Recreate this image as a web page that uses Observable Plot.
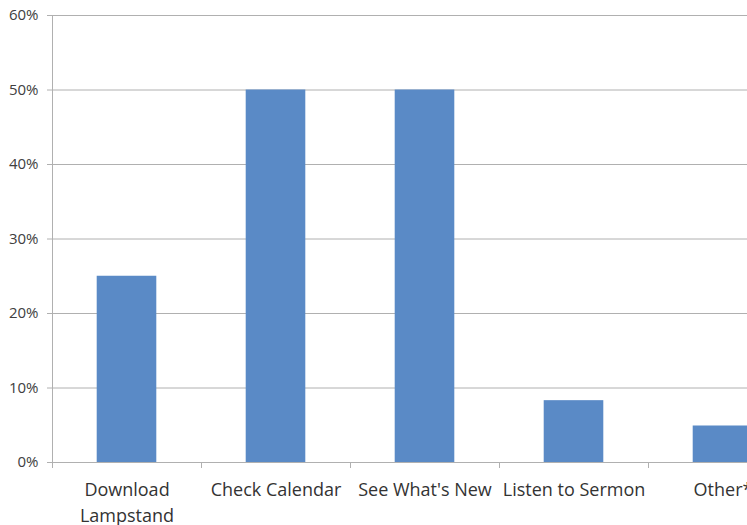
<!DOCTYPE html>
<html>
<head>
<meta charset="utf-8">
<script src="https://cdn.jsdelivr.net/npm/d3@7"></script>
<script src="https://cdn.jsdelivr.net/npm/@observablehq/plot@0.6"></script>
<style>
  html, body { margin: 0; padding: 0; background: #fff; }
  #chart svg { display: block; }
</style>
</head>
<body>
<div id="chart"></div>
<script>
const categories = ["Download Lampstand", "Check Calendar", "See What's New", "Listen to Sermon", "Other*"];
const tickLabels = ["Download\nLampstand", "Check Calendar", "See What's New", "Listen to Sermon", "Other*"];
const values = [0.25, 0.50, 0.50, 0.083, 0.049];
const yTicks = [0, 0.1, 0.2, 0.3, 0.4, 0.5, 0.6];

const rows = categories.map((c, i) => ({category: c, index: i, value: values[i], label: tickLabels[i]}));
const boundaries = d3.range(categories.length + 1);
const barPad = 0.3;

const chart = Plot.plot({
  width: 747,
  height: 525,
  marginLeft: 52,
  marginRight: 0,
  marginTop: 15,
  marginBottom: 63,
  style: {background: "#fff", fontFamily: "'Open Sans', sans-serif", color: "#404040", overflow: "hidden"},
  x: {type: "linear", domain: [0, categories.length], range: [52, 52 + 149 * categories.length], axis: null},
  y: {domain: [0, 0.6], axis: null},
  marks: [
    Plot.gridY(yTicks, {stroke: "#b0b0b0", strokeOpacity: 1}),
    Plot.ruleX([0], {stroke: "#b0b0b0"}),
    Plot.axisX({ticks: boundaries, tickSize: 6, tickFormat: () => "", label: null, stroke: "#b0b0b0"}),
    Plot.axisY({ticks: yTicks, tickFormat: d3.format(".0%"), label: null, tickSize: 5, tickPadding: 9, fontSize: 15, stroke: "#b0b0b0", fill: "#404040"}),
    Plot.rectY(rows, {x1: d => d.index + barPad, x2: d => d.index + 1 - barPad, y1: 0, y2: "value", fill: "#5a8ac6"}),
    Plot.ruleY([0], {stroke: "#b0b0b0"}),
    Plot.text(rows, {x: d => d.index + 0.5, y: 0, text: "label", lineAnchor: "top", dy: 15, fontSize: 18, lineHeight: 1.45, fill: "#333"})
  ]
});
document.getElementById("chart").appendChild(chart);
</script>
</body>
</html>
